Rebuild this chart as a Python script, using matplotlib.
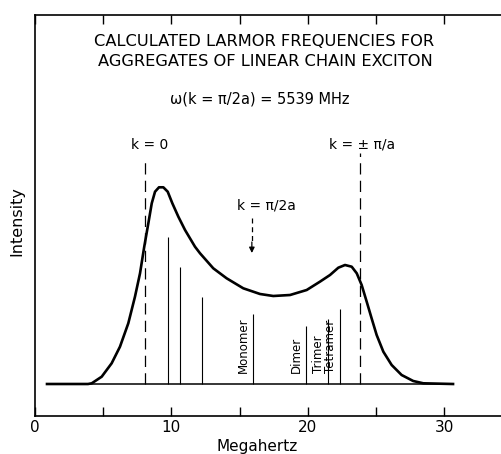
import matplotlib
matplotlib.use("Agg")
import matplotlib.pyplot as plt

# envelope curve (MHz, intensity a.u.)
curve_mhz = [0.88, 3.89, 4.16, 4.89, 5.62, 6.23, 6.84, 7.33, 7.70, 8.01, 8.31, 8.56,
             8.80, 9.09, 9.41, 9.73, 10.07, 10.51, 11.00, 11.73, 12.10, 13.07, 14.05,
             15.27, 16.50, 17.47, 18.70, 19.92, 20.89, 21.63, 22.24, 22.73, 23.22,
             23.59, 23.95, 24.32, 24.68, 25.05, 25.54, 26.15, 26.88, 27.73, 28.47,
             30.65]
curve_int = [0, 0, 0.35, 3.65, 10.35, 18.65, 30.35, 43.65, 55.35, 68.65, 80.35, 90.35,
             96.15, 98.35, 98.35, 96.15, 90.35, 83.65, 77, 68.65, 65.35, 57.85, 52.85,
             47.85, 45, 44, 44.5, 47, 51.15, 54.5, 58.15, 59.5, 58.65,
             55.35, 49.5, 41.15, 32.85, 24.5, 16.15, 9.5, 4.5, 1.5, 0.35,
             0]

# calculated lines
stick_mhz = [9.75, 10.63, 12.24, 15.98, 19.87, 21.48, 22.36]
stick_int = [73.5, 58.5, 43.5, 35, 29, 32.5, 37.5]
stick_labels = ["", "", "", "Monomer", "Dimer", "Trimer", "Tetramer"]

k0_mhz = 8.06
kpi_mhz = 23.8
khalf_mhz = 15.9

W, H = 502, 454
fig = plt.figure(figsize=(W / 100, H / 100), dpi=100)
ax = fig.add_axes([35 / W, 38 / H, 467 / W, 401 / H])
ax.set_xlim(0, 34.24)
ax.set_ylim(-16, 184.5)

ax.plot([curve_mhz[0], curve_mhz[-1]], [0, 0], color="black", lw=1.1)
ax.plot(curve_mhz, curve_int, color="black", lw=1.9, solid_joinstyle="round")
ax.vlines(stick_mhz, 0, stick_int, color="black", lw=0.8)
for m, h, lab in zip(stick_mhz, stick_int, stick_labels):
    if lab:
        ax.text(m - 0.22, 5.5, lab, rotation=90, ha="right", va="bottom", fontsize=8.5)

# k markers
ax.plot([k0_mhz, k0_mhz], [0, 111], color="black", lw=0.9, dashes=(9, 5))
ax.plot([kpi_mhz, kpi_mhz], [0, 115.5], color="black", lw=0.9, dashes=(9, 5))
ax.plot([khalf_mhz, khalf_mhz], [83, 70], color="black", lw=0.9, dashes=(4, 3))
ax.annotate("", xy=(khalf_mhz, 65.5), xytext=(khalf_mhz, 71),
            arrowprops=dict(arrowstyle="-|>", color="black", lw=0.9,
                            mutation_scale=8, shrinkA=0, shrinkB=0))

ax.spines["right"].set_visible(False)
for s in ["left", "top", "bottom"]:
    ax.spines[s].set_linewidth(1.2)
ax.set_yticks([])
ax.set_xticks([0, 5, 10, 15, 20, 25, 30])
ax.set_xticklabels(["0", "", "10", "", "20", "", "30"])
ax.tick_params(axis="x", direction="in", length=6.5, width=1, labelsize=11,
               top=True, pad=3)

def ftext(x, y, s, **kw):
    fig.text(x / W, 1 - y / H, s, ha="center", va="center", **kw)

ftext(264, 41, "CALCULATED LARMOR FREQUENCIES FOR", fontsize=11.7)
ftext(265, 61, "AGGREGATES OF LINEAR CHAIN EXCITON", fontsize=11.7)
ftext(260, 99, "ω(k = π/2a) = 5539 MHz", fontsize=10.5)
ftext(150, 145, "k = 0", fontsize=10)
ftext(362, 145, "k = ± π/a", fontsize=10)
ftext(266, 205, "k = π/2a", fontsize=10)
ftext(17, 221, "Intensity", fontsize=11.5, rotation=90)
ftext(257, 447, "Megahertz", fontsize=11)

fig.savefig("out.png", dpi=100)
